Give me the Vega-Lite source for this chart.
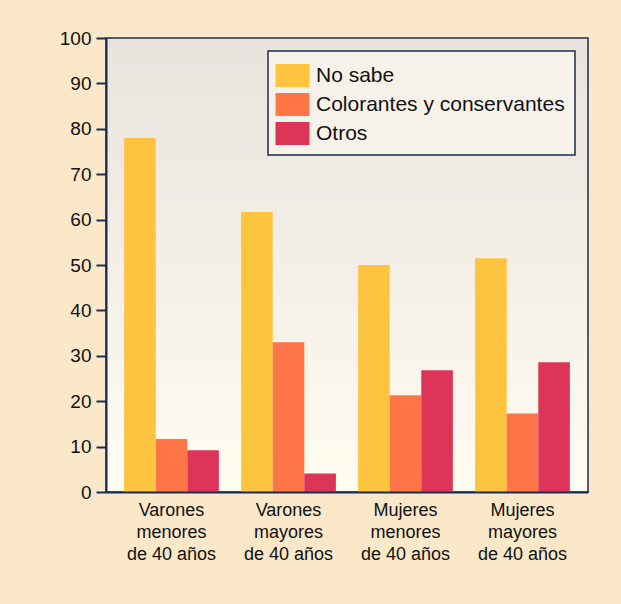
{
  "$schema": "https://vega.github.io/schema/vega-lite/v6.json",
  "width": 482,
  "height": 454,
  "autosize": "none",
  "padding": {"left": 106, "top": 38, "right": 33, "bottom": 112},
  "background": "#fae8c8",
  "config": {
    "font": "Liberation Sans",
    "view": {"stroke": null},
    "legend": {"strokeWidth": 1.5}
  },
  "layer": [
    {
      "data": {"values": [{}]},
      "mark": {
        "type": "rect",
        "stroke": "#1c2b50",
        "strokeWidth": 1.5,
        "color": {
          "gradient": "linear",
          "x1": 0, "y1": 0, "x2": 0, "y2": 1,
          "stops": [
            {"offset": 0, "color": "#e8e3de"},
            {"offset": 1, "color": "#fffcf0"}
          ]
        }
      },
      "encoding": {
        "y": {"datum": 0, "type": "quantitative"},
        "y2": {"datum": 100}
      }
    },
    {
      "data": {
        "values": [
          {"grupo": "Varones menores de 40 años", "respuesta": "No sabe", "porcentaje": 78},
          {"grupo": "Varones menores de 40 años", "respuesta": "Colorantes y conservantes", "porcentaje": 11.7},
          {"grupo": "Varones menores de 40 años", "respuesta": "Otros", "porcentaje": 9.2},
          {"grupo": "Varones mayores de 40 años", "respuesta": "No sabe", "porcentaje": 61.7},
          {"grupo": "Varones mayores de 40 años", "respuesta": "Colorantes y conservantes", "porcentaje": 33},
          {"grupo": "Varones mayores de 40 años", "respuesta": "Otros", "porcentaje": 4.1},
          {"grupo": "Mujeres menores de 40 años", "respuesta": "No sabe", "porcentaje": 50},
          {"grupo": "Mujeres menores de 40 años", "respuesta": "Colorantes y conservantes", "porcentaje": 21.3},
          {"grupo": "Mujeres menores de 40 años", "respuesta": "Otros", "porcentaje": 26.8},
          {"grupo": "Mujeres mayores de 40 años", "respuesta": "No sabe", "porcentaje": 51.5},
          {"grupo": "Mujeres mayores de 40 años", "respuesta": "Colorantes y conservantes", "porcentaje": 17.3},
          {"grupo": "Mujeres mayores de 40 años", "respuesta": "Otros", "porcentaje": 28.6}
        ]
      },
      "mark": {"type": "bar"},
      "encoding": {
        "x": {
          "field": "grupo",
          "type": "nominal",
          "sort": null,
          "scale": {"paddingInner": 0.19, "paddingOuter": 0.155},
          "axis": {
            "title": null,
            "labelAngle": 0,
            "ticks": false,
            "domain": true,
            "domainColor": "#1c2b50",
            "domainWidth": 2,
            "labelFont": "Liberation Sans",
            "labelFontSize": 18,
            "labelColor": "#111111",
            "labelLineHeight": 22,
            "labelPadding": 9,
            "labelExpr": "[split(datum.label, ' ')[0], split(datum.label, ' ')[1], join(slice(split(datum.label, ' '), 2), ' ')]",
            "zindex": 1
          }
        },
        "xOffset": {
          "field": "respuesta",
          "sort": ["No sabe", "Colorantes y conservantes", "Otros"],
          "scale": {"paddingInner": 0, "paddingOuter": 0}
        },
        "y": {
          "field": "porcentaje",
          "type": "quantitative",
          "scale": {"domain": [0, 100]},
          "axis": {
            "title": null,
            "values": [0, 10, 20, 30, 40, 50, 60, 70, 80, 90, 100],
            "grid": false,
            "domain": true,
            "domainColor": "#1c2b50",
            "domainWidth": 2,
            "ticks": true,
            "tickSize": 10,
            "tickWidth": 2,
            "tickColor": "#1c2b50",
            "labelFont": "Liberation Sans",
            "labelFontSize": 19,
            "labelColor": "#111111",
            "labelPadding": 5,
            "zindex": 1
          }
        },
        "color": {
          "field": "respuesta",
          "type": "nominal",
          "sort": ["No sabe", "Colorantes y conservantes", "Otros"],
          "scale": {
            "domain": ["No sabe", "Colorantes y conservantes", "Otros"],
            "range": ["#ffc43f", "#ff7548", "#dc3558"]
          },
          "legend": {
            "title": null,
            "orient": "top-right",
            "offset": 13,
            "fillColor": "#f6f2ea",
            "strokeColor": "#1c2b50",
            "padding": 10,
            "labelFont": "Liberation Sans",
            "labelFontSize": 21,
            "labelColor": "#111111",
            "labelLimit": 400,
            "labelOffset": 9,
            "symbolType": "M-1.17,-0.79H1.17V0.79H-1.17Z",
            "symbolSize": 841,
            "symbolStrokeWidth": 0,
            "symbolOpacity": 1,
            "rowPadding": 3
          }
        }
      }
    }
  ]
}
